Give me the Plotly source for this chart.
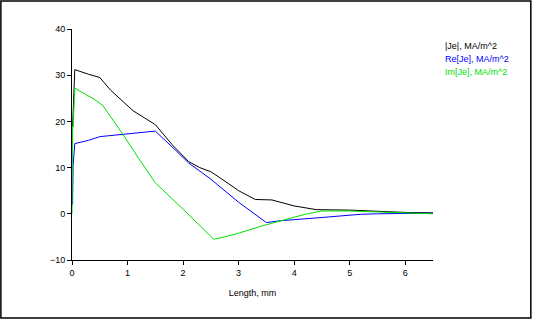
import plotly.graph_objects as go

# Data
abs_x = [0.01, 0.02, 0.04, 0.05, 0.3, 0.5, 0.7, 0.9, 1.1, 1.3, 1.5, 1.8, 2.1, 2.3, 2.5, 2.7, 3.0, 3.3, 3.6, 4.0, 4.4, 5.0, 5.5, 6.0, 6.5]
abs_y = [18.5, 21.5, 27.0, 31.2, 30.2, 29.5, 26.7, 24.5, 22.3, 20.8, 19.3, 15.0, 11.3, 10.0, 9.1, 7.5, 5.0, 3.1, 3.0, 1.7, 0.9, 0.8, 0.5, 0.3, 0.2]

re_x = [0.01, 0.02, 0.05, 0.3, 0.5, 0.8, 1.2, 1.5, 1.8, 2.1, 2.5, 3.0, 3.5, 3.75, 4.5, 5.2, 5.5, 6.0, 6.5]
re_y = [2.0, 10.5, 15.2, 15.9, 16.7, 17.1, 17.5, 17.9, 14.5, 11.0, 7.5, 2.5, -1.9, -1.5, -0.8, -0.1, 0.0, 0.15, 0.15]

im_x = [0.0, 0.01, 0.02, 0.05, 0.2, 0.4, 0.55, 0.9, 1.2, 1.5, 2.0, 2.55, 2.75, 3.0, 3.4, 3.8, 4.2, 4.5, 5.0, 5.5, 6.0, 6.5]
im_y = [0.0, 19.0, 18.8, 27.2, 26.2, 24.8, 23.5, 17.5, 12.0, 6.7, 1.0, -5.5, -5.0, -4.2, -2.7, -1.4, -0.1, 0.6, 0.6, 0.4, 0.2, 0.0]

series_names = ["|Je|, MA/m^2", "Re[Je], MA/m^2", "Im[Je], MA/m^2"]
series_colors = ["#000000", "#0000ff", "#00e000"]

x_ticks = [0, 1, 2, 3, 4, 5, 6]
y_ticks = [-10, 0, 10, 20, 30, 40]

fig = go.Figure()
for xs, ys, name, col in zip([abs_x, re_x, im_x], [abs_y, re_y, im_y], series_names, series_colors):
    fig.add_trace(go.Scatter(x=xs, y=ys, mode="lines", name=name,
                             line=dict(color=col, width=1), showlegend=False))

# Text-only legend
legend_y = [0.928, 0.870, 0.813]
for name, col, ly in zip(series_names, series_colors, legend_y):
    fig.add_annotation(x=1.028, y=ly, xref="paper", yref="paper", text=name,
                       showarrow=False, xanchor="left", yanchor="middle",
                       font=dict(family="Liberation Sans, Arial, sans-serif", size=9, color=col))

font = dict(family="Liberation Sans, Arial, sans-serif", size=9, color="black")
fig.update_layout(
    width=533, height=320,
    margin=dict(l=72, r=100, t=29, b=60),
    paper_bgcolor="white", plot_bgcolor="white",
    font=font,
    xaxis=dict(range=[0, 6.5], tickvals=x_ticks, showgrid=False, zeroline=False,
               showline=True, linecolor="black", linewidth=1,
               ticks="outside", ticklen=4, tickcolor="black",
               title=dict(text="Length, mm", font=font, standoff=12)),
    yaxis=dict(range=[-10, 40], tickvals=y_ticks, showgrid=False, zeroline=False,
               showline=True, linecolor="black", linewidth=1,
               ticks="outside", ticklen=4, tickcolor="black"),
    shapes=[dict(type="rect", xref="paper", yref="paper",
                 x0=-0.197, x1=1.271, y0=-0.251, y1=1.121,
                 line=dict(color="black", width=1.5), fillcolor="rgba(0,0,0,0)")],
)

fig.write_html("out.html", config={"displayModeBar": False},
               post_script="document.body.style.margin='0';document.body.style.overflow='hidden';")
